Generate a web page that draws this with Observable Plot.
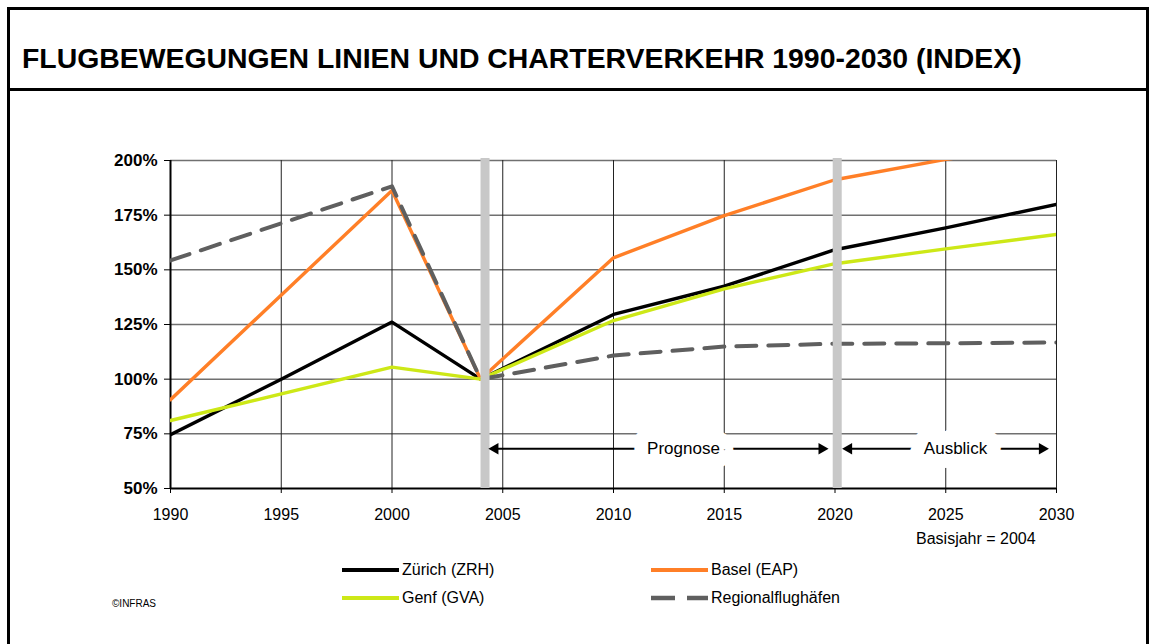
<!DOCTYPE html>
<html><head><meta charset="utf-8">
<script src="https://cdn.jsdelivr.net/npm/d3@7"></script>
<script src="https://cdn.jsdelivr.net/npm/@observablehq/plot@0.6"></script>
<style>
body{margin:0;background:#fff;font-family:"Liberation Sans",Arial,sans-serif;color:#000;}
#wrap{position:relative;width:1151px;height:644px;overflow:hidden;background:#fff;}
#frame{position:absolute;left:7px;top:7px;width:1136px;height:700px;border:3px solid #000;pointer-events:none;z-index:5;}
#sep{position:absolute;left:7px;top:88px;width:1142px;height:3px;background:#000;z-index:5;}
#title{position:absolute;left:22px;top:44px;font-size:28.4px;line-height:28px;font-weight:bold;white-space:nowrap;}
#chart{position:absolute;left:0;top:92px;}
#basis{position:absolute;left:916px;top:531px;font-size:16px;line-height:16px;white-space:nowrap;}
.leg{position:absolute;display:flex;align-items:center;height:20px;font-size:16px;white-space:nowrap;}
.leg svg{margin-right:3px;}
#copy{position:absolute;left:112px;top:598px;font-size:10px;line-height:12px;}
</style>
</head><body>
<div id="wrap">
  <div id="title"></div>
  <div id="chart"></div>
  <div id="basis"></div>
  <div id="legend"></div>
  <div id="copy">©INFRAS</div>
  <div id="sep"></div>
  <div id="frame"></div>
</div>
<script>
const titleText = "FLUGBEWEGUNGEN LINIEN UND CHARTERVERKEHR 1990-2030 (INDEX)";
const years    = [1990, 1995, 2000, 2004, 2010, 2015, 2020, 2025, 2030];
const zurich   = [74.6, 100, 126.1, 100, 129.6, 142.5, 159.2, 169.2, 179.9];
const basel    = [90.6, null, 186.3, 100, 155.5, 174.8, 191.2, 200.5, 208];
const genf     = [81.1, null, 105.5, 100, 126.8, 141.3, 152.8, 159.6, 166.2];
const regional = [154.3, null, 188.2, 100, 110.8, 114.9, 116.2, 116.4, 116.8];
const seriesNames  = ["Zürich (ZRH)", "Basel (EAP)", "Genf (GVA)", "Regionalflughäfen"];
const seriesColors = ["#000000", "#ff7f27", "#cde817", "#5f5f5f"];
const xTicks = [1990, 1995, 2000, 2005, 2010, 2015, 2020, 2025, 2030];
const yTicks = [50, 75, 100, 125, 150, 175, 200];
const separators = [2004.2, 2020.1];
const phaseLabels = ["Prognose", "Ausblick"];
const phaseFrom   = [2004.36, 2020.33];
const phaseTo     = [2019.7, 2029.65];
const phaseAt     = [2013.16, 2025.44];
const arrowLevel  = 68.2;
const basisText = "Basisjahr = 2004";

document.getElementById("title").textContent = titleText;
document.getElementById("basis").textContent = basisText;

const allSeries = [zurich, basel, genf, regional];
const data = [];
allSeries.forEach((vals, i) => {
  vals.forEach((v, j) => { if (v != null) data.push({series: seriesNames[i], year: years[j], value: v}); });
});
const solid = data.filter(d => d.series !== "Regionalflughäfen");
const dashed = data.filter(d => d.series === "Regionalflughäfen");
const phases = phaseLabels.map((l, i) => ({label: l, from: phaseFrom[i], to: phaseTo[i], at: phaseAt[i]}));

const W = 1151, H = 450;
const plot = Plot.plot({
  width: W, height: H,
  marginLeft: 170, marginRight: 95, marginTop: 68, marginBottom: 54,
  style: {fontFamily: '"Liberation Sans", Arial, sans-serif', color: "#000", background: "transparent", overflow: "visible"},
  x: {type: "linear", domain: [1990, 2030], label: null},
  y: {domain: [50, 200], label: null},
  color: {domain: seriesNames, range: seriesColors},
  marks: [
    Plot.ruleY(yTicks.filter(d => d > 50), {stroke: "#707070", strokeWidth: 1.5}),
    Plot.ruleX(xTicks.filter(d => d > 1990), {stroke: "#222", strokeWidth: 1}),
    Plot.ruleX([1990], {stroke: "#000", strokeWidth: 2}),
    Plot.ruleY([50], {stroke: "#000", strokeWidth: 2}),
    Plot.axisY({ticks: yTicks, tickFormat: d => d + "%", label: null, fontWeight: "bold", fontSize: 17, tickSize: 6, tickPadding: 7, stroke: "#000"}),
    Plot.axisX({ticks: xTicks, tickFormat: d => String(d), label: null, fontSize: 16, tickSize: 5, tickPadding: 15, stroke: "#000"}),
    Plot.line(solid, {x: "year", y: "value", z: "series", stroke: "series", strokeWidth: 3.4, clip: true}),
    Plot.line(dashed, {x: "year", y: "value", z: "series", stroke: "series", strokeWidth: 4, strokeDasharray: "20,12", clip: true}),
    Plot.ruleX(separators, {y1: 50, y2: 200, stroke: "#c8c8c8", strokeWidth: 9, insetBottom: 2}),
    Plot.ruleY(phases, {y: () => arrowLevel, x1: "from", x2: "to", stroke: "#000", strokeWidth: 2, insetLeft: 6, insetRight: 6}),
    Plot.dot(phases, {x: "from", y: () => arrowLevel, symbol: "triangle", r: 4.3, fill: "#000", stroke: "none", rotate: -90, dx: 6.5}),
    Plot.dot(phases, {x: "to", y: () => arrowLevel, symbol: "triangle", r: 4.3, fill: "#000", stroke: "none", rotate: 90, dx: -6.5}),
    Plot.text(phases, {x: "at", y: () => arrowLevel, text: "label", fontSize: 17, fill: "#000", stroke: "#fff", strokeWidth: 28, strokeLinejoin: "round"})
  ]
});
document.getElementById("chart").appendChild(plot);

// legend
const legendPos = [[342, 560], [651, 560], [342, 588], [651, 588]];
const legendOrder = [0, 1, 2, 3];
const legEl = document.getElementById("legend");
legendOrder.forEach((i, k) => {
  const div = document.createElement("div");
  div.className = "leg";
  div.style.left = legendPos[k][0] + "px";
  div.style.top = legendPos[k][1] + "px";
  const dash = seriesNames[i] === "Regionalflughäfen" ? ' stroke-dasharray="24,12"' : "";
  div.innerHTML = `<svg width="57" height="6"><line x1="0" y1="3" x2="57" y2="3" stroke="${seriesColors[i]}" stroke-width="${dash ? 4.5 : 4}"${dash}/></svg><span>${seriesNames[i]}</span>`;
  legEl.appendChild(div);
});
</script>
</body></html>
